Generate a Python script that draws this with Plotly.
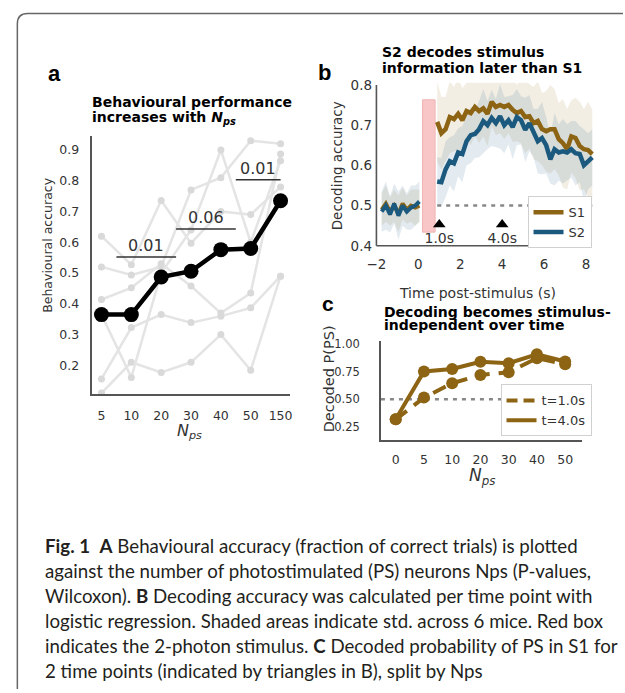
import plotly.graph_objects as go

W, H = 625, 693
FONT = "DejaVu Sans"

# ---------------- Panel a data ----------------
nps_a = ["5", "10", "20", "30", "40", "50", "150"]
mean_a = [0.365, 0.365, 0.487, 0.506, 0.576, 0.58, 0.735]
mouse_a1 = [0.62, 0.527, 0.736, 0.597, 0.70, 0.69, 0.78]
mouse_a2 = [0.52, 0.494, 0.52, 0.77, 0.81, 0.93, 0.92]
mouse_a3 = [0.414, 0.452, 0.53, 0.458, 0.37, 0.435, 0.887]
mouse_a4 = [0.156, 0.323, 0.365, 0.339, 0.36, 0.387, 0.49]
mouse_a5 = [0.11, 0.21, 0.177, 0.21, 0.30, 0.184, 0.49]
mouse_a6 = [0.365, 0.161, 0.50, 0.64, 0.90, 0.60, 0.865]
sig_start = [0.5, 2.5, 4.5]
sig_end = [2.5, 4.5, 6.0]
sig_height = [0.552, 0.643, 0.803]
sig_labels = ["0.01", "0.06", "0.01"]
yticks_a = [0.2, 0.3, 0.4, 0.5, 0.6, 0.7, 0.8, 0.9]

# ---------------- Panel b data ----------------
t_pre = [-1.75, -1.55, -1.35, -1.15, -0.95, -0.75, -0.55, -0.35, -0.15, 0.05]
s1_pre = [0.49, 0.505, 0.485, 0.50, 0.48, 0.505, 0.49, 0.50, 0.495, 0.50]
s2_pre = [0.485, 0.50, 0.478, 0.505, 0.475, 0.50, 0.485, 0.495, 0.50, 0.51]
s1_pre_sd = [0.04, 0.045, 0.035, 0.04, 0.045, 0.04, 0.035, 0.04, 0.045, 0.04]
s2_pre_sd = [0.05, 0.06, 0.045, 0.05, 0.06, 0.05, 0.045, 0.055, 0.05, 0.05]

t_post = [0.9, 1.1, 1.3, 1.5, 1.7, 1.9, 2.1, 2.3, 2.5, 2.7, 2.9, 3.1, 3.3,
          3.5, 3.7, 3.9, 4.1, 4.3, 4.5, 4.7, 4.9, 5.1, 5.3, 5.5, 5.7, 5.9,
          6.1, 6.3, 6.5, 6.7, 6.9, 7.1, 7.3, 7.5, 7.7, 7.9, 8.1, 8.3]
s1_post = [0.708, 0.68, 0.69, 0.72, 0.715, 0.728, 0.712, 0.735, 0.73, 0.745,
           0.735, 0.742, 0.728, 0.758, 0.745, 0.75, 0.745, 0.75, 0.738, 0.73,
           0.735, 0.72, 0.722, 0.705, 0.71, 0.69, 0.685, 0.69, 0.69, 0.665,
           0.655, 0.64, 0.672, 0.668, 0.648, 0.64, 0.638, 0.628]
s2_post = [0.56, 0.558, 0.59, 0.61, 0.605, 0.632, 0.628, 0.66, 0.675, 0.678,
           0.69, 0.71, 0.70, 0.718, 0.705, 0.722, 0.70, 0.712, 0.695, 0.72,
           0.712, 0.688, 0.705, 0.68, 0.66, 0.668, 0.65, 0.615, 0.64, 0.632,
           0.635, 0.632, 0.64, 0.63, 0.628, 0.60, 0.61, 0.62]
s1_post_sd = [0.10, 0.09, 0.08, 0.09, 0.08, 0.09, 0.08, 0.07, 0.08, 0.07,
              0.08, 0.07, 0.08, 0.06, 0.07, 0.07, 0.08, 0.07, 0.08, 0.07,
              0.08, 0.09, 0.08, 0.09, 0.10, 0.09, 0.10, 0.11, 0.10, 0.09,
              0.11, 0.10, 0.09, 0.10, 0.11, 0.10, 0.12, 0.11]
s2_post_sd = [0.06, 0.06, 0.07, 0.06, 0.07, 0.06, 0.07, 0.06, 0.07, 0.06,
              0.07, 0.08, 0.06, 0.07, 0.06, 0.08, 0.07, 0.06, 0.08, 0.07,
              0.06, 0.08, 0.07, 0.06, 0.08, 0.09, 0.07, 0.06, 0.09, 0.07,
              0.08, 0.07, 0.07, 0.08, 0.07, 0.09, 0.07, 0.07]
stim_on, stim_off = 0.2, 0.8
trig_times = [1.0, 4.0]
trig_labels = ["1.0s", "4.0s"]
chance_b = 0.5
xticks_b = [-2, 0, 2, 4, 6, 8]
xticktext_b = ["\u22122", "0", "2", "4", "6", "8"]
yticks_b = [0.4, 0.5, 0.6, 0.7, 0.8]

# ---------------- Panel c data ----------------
nps_c = ["0", "5", "10", "20", "30", "40", "50"]
p_t1 = [0.318, 0.515, 0.645, 0.72, 0.744, 0.872, 0.818]
p_t4 = [0.318, 0.752, 0.774, 0.839, 0.827, 0.908, 0.842]
chance_c = 0.5
yticks_c = [0.25, 0.5, 0.75, 1.0]
yticktext_c = ["0.25", "0.50", "0.75", "1.00"]

BROWN = "#8c6414"
BLUE = "#1b5a7e"


def px_x(p):
    return p / W


def px_y(p):
    return 1 - p / H


fig = go.Figure()
annos = []


def txt(x, y, text, size, xanchor="left", yanchor="middle", family=FONT, color="black", angle=0):
    annos.append(dict(x=px_x(x), y=px_y(y), xref="paper", yref="paper", text=text,
                      showarrow=False, xanchor=xanchor, yanchor=yanchor, textangle=angle,
                      font=dict(family=family, size=size, color=color)))


# ---------- panel a ----------
for m in [mouse_a1, mouse_a2, mouse_a3, mouse_a4, mouse_a5, mouse_a6]:
    fig.add_trace(go.Scatter(
        x=list(range(len(nps_a))), y=m, mode="lines+markers",
        line=dict(color="#e4e4e4", width=2.5),
        marker=dict(color="#d9d9d9", size=7),
        showlegend=False, hoverinfo="skip", xaxis="x", yaxis="y"))
fig.add_trace(go.Scatter(
    x=list(range(len(nps_a))), y=mean_a, mode="lines+markers",
    line=dict(color="black", width=4.5), marker=dict(color="black", size=15),
    showlegend=False, xaxis="x", yaxis="y"))
for s, e, h, lab in zip(sig_start, sig_end, sig_height, sig_labels):
    fig.add_trace(go.Scatter(
        x=[s, e], y=[h, h], mode="lines", line=dict(color="#333", width=1.6),
        showlegend=False, hoverinfo="skip", xaxis="x", yaxis="y"))
    annos.append(dict(x=(s + e) / 2, y=h, xref="x", yref="y", text=lab,
                      showarrow=False, yanchor="bottom",
                      font=dict(family=FONT, size=16, color="#333")))


# ---------- panel b ----------
def band(t, m, sd):
    up = [a + b for a, b in zip(m, sd)]
    lo = [a - b for a, b in zip(m, sd)]
    return t + t[::-1], up + lo[::-1]


for t, m, sd, col in [(t_pre, s1_pre, s1_pre_sd, "rgba(160,120,40,0.13)"),
                      (t_pre, s2_pre, s2_pre_sd, "rgba(40,100,150,0.13)"),
                      (t_post, s1_post, s1_post_sd, "rgba(160,120,40,0.13)"),
                      (t_post, s2_post, s2_post_sd, "rgba(40,100,150,0.13)")]:
    bx, by = band(t, m, sd)
    fig.add_trace(go.Scatter(x=bx, y=by, fill="toself", fillcolor=col,
                             line=dict(width=0), mode="lines",
                             showlegend=False, hoverinfo="skip",
                             xaxis="x2", yaxis="y2"))

fig.add_trace(go.Scatter(x=[t_post[0], t_post[-1]], y=[chance_b, chance_b],
                         mode="lines", line=dict(color="#888", width=2.5, dash="4px,5px"),
                         showlegend=False, hoverinfo="skip", xaxis="x2", yaxis="y2"))

fig.add_trace(go.Scatter(x=t_pre, y=s1_pre, mode="lines", line=dict(color=BROWN, width=4),
                         legendgroup="S1", showlegend=False, xaxis="x2", yaxis="y2"))
fig.add_trace(go.Scatter(x=t_pre, y=s2_pre, mode="lines", line=dict(color=BLUE, width=4),
                         legendgroup="S2", showlegend=False, xaxis="x2", yaxis="y2"))
fig.add_trace(go.Scatter(x=t_post, y=s1_post, mode="lines", line=dict(color=BROWN, width=4.5),
                         name="S1", legendgroup="S1", legend="legend",
                         xaxis="x2", yaxis="y2"))
fig.add_trace(go.Scatter(x=t_post, y=s2_post, mode="lines", line=dict(color=BLUE, width=4.5),
                         name="S2", legendgroup="S2", legend="legend",
                         xaxis="x2", yaxis="y2"))
fig.add_trace(go.Scatter(x=trig_times, y=[0.453] * len(trig_times), mode="markers+text",
                         marker=dict(symbol="triangle-up", color="black", size=11),
                         text=trig_labels, textposition="bottom center",
                         textfont=dict(family=FONT, size=14, color="#333"),
                         showlegend=False, hoverinfo="skip", xaxis="x2", yaxis="y2"))

# ---------- panel c ----------
fig.add_trace(go.Scatter(x=[-0.523, 6.585], y=[chance_c, chance_c], mode="lines",
                         line=dict(color="#888", width=2.5, dash="4px,5px"),
                         showlegend=False, hoverinfo="skip", xaxis="x3", yaxis="y3"))
fig.add_trace(go.Scatter(x=list(range(len(nps_c))), y=p_t1, mode="lines+markers",
                         line=dict(color=BROWN, width=4, dash="14px,9px"),
                         marker=dict(color=BROWN, size=12), showlegend=False,
                         xaxis="x3", yaxis="y3"))
fig.add_trace(go.Scatter(x=list(range(len(nps_c))), y=p_t4, mode="lines+markers",
                         line=dict(color=BROWN, width=4),
                         marker=dict(color=BROWN, size=12), showlegend=False,
                         xaxis="x3", yaxis="y3"))
fig.add_trace(go.Scatter(x=[None], y=[None], mode="lines",
                         line=dict(color=BROWN, width=4, dash="11px,6px"),
                         name="t=1.0s", legend="legend2", xaxis="x3", yaxis="y3"))
fig.add_trace(go.Scatter(x=[None], y=[None], mode="lines",
                         line=dict(color=BROWN, width=4),
                         name="t=4.0s", legend="legend2", xaxis="x3", yaxis="y3"))

tickfont = dict(family=FONT, size=12.5, color="#333")

shapes = [
    dict(type="line", xref="x2", yref="y2", x0=-2, x1=-2, y0=0.4, y1=0.8,
         line=dict(color="#555", width=1.6)),
    dict(type="line", xref="x2", yref="y2", x0=-2, x1=8, y0=0.4, y1=0.4,
         line=dict(color="#555", width=1.6)),
    dict(type="rect", xref="x2", yref="y2", x0=stim_on, x1=stim_off, y0=0.434, y1=0.763,
         fillcolor="#f8c6c6", line=dict(color="#f0b4b4", width=1), layer="below"),
    dict(type="path", xref="paper", yref="paper",
         path=(f"M {px_x(9.5)},0 L {px_x(9.5)},{px_y(18)} "
               f"Q {px_x(9.5)},{px_y(7.5)} {px_x(20)},{px_y(7.5)} L 1,{px_y(7.5)}"),
         line=dict(color="#666", width=1.5)),
]

txt(47, 68, "<b>a</b>", 22, xanchor="center", family="Liberation Sans")
txt(322, 67, "<b>b</b>", 22, xanchor="center", family="Liberation Sans")
txt(325, 302, "<b>c</b>", 21, xanchor="center", family="Liberation Sans")
txt(83, 97, "<b>Behavioural performance</b>", 14)
txt(83, 113.5, "<b>increases with <i>N<sub>ps</sub></i></b>", 14)
txt(378, 47, "<b>S2 decodes stimulus</b>", 14)
txt(378, 62.5, "<b>information later than S1</b>", 14)
txt(380, 310, "<b>Decoding becomes stimulus-</b>", 14)
txt(380, 324, "<b>independent over time</b>", 14)
txt(40, 242, "Behavioural accuracy", 12.5, xanchor="center", color="#333", angle=-90)
txt(184, 432, "<i>N<sub>ps</sub></i>", 16, xanchor="center", color="#333")
txt(334, 162, "Decoding accuracy", 13.5, xanchor="center", color="#333", angle=-90)
txt(477, 291, "Time post-stimulus (s)", 14, xanchor="center", color="#333")
txt(326, 378, "Decoded P(PS)", 14.5, xanchor="center", color="#333", angle=-90)
txt(482, 477, "<i>N<sub>ps</sub></i>", 17, xanchor="center", color="#333")

cap = [
    "<b>Fig. 1</b>  <b>A</b> Behavioural accuracy (fraction of correct trials) is plotted",
    "against the number of photostimulated (PS) neurons Nps (P-values,",
    "Wilcoxon). <b>B</b> Decoding accuracy was calculated per time point with",
    "logistic regression. Shaded areas indicate std. across 6 mice. Red box",
    "indicates the 2-photon stimulus. <b>C</b> Decoded probability of PS in S1 for",
    "2 time points (indicated by triangles in B), split by Nps",
]
for i, line in enumerate(cap):
    txt(36, 548 + i * 25.3, line, 18.7, family="Lato", color="#231f20")

fig.update_layout(
    width=W, height=H, margin=dict(l=0, r=0, t=0, b=0),
    paper_bgcolor="white", plot_bgcolor="rgba(0,0,0,0)",
    font=dict(family=FONT, color="#333"),
    shapes=shapes, annotations=annos,
    xaxis=dict(domain=[px_x(85), px_x(287)], range=[-0.33, 6.33], anchor="y",
               tickvals=list(range(len(nps_a))), ticktext=nps_a, showgrid=False,
               zeroline=False, showline=True, linecolor="#555", linewidth=2,
               ticks="", tickfont=tickfont, ticklabelstandoff=9),
    yaxis=dict(domain=[px_y(394), px_y(132)], range=[0.106, 0.945], anchor="x",
               tickvals=yticks_a, ticktext=[f"{v:.1f}" for v in yticks_a], showgrid=False,
               zeroline=False, showline=True, linecolor="#555", linewidth=2,
               ticks="", tickfont=tickfont, ticklabelstandoff=8),
    xaxis2=dict(domain=[px_x(372), px_x(600)], range=[-2.113, 8.592], anchor="y2",
                tickvals=xticks_b, ticktext=xticktext_b, showgrid=False, zeroline=False,
                showline=False, ticks="", tickfont=dict(family=FONT, size=13.5, color="#333"),
                ticklabelstandoff=5),
    yaxis2=dict(domain=[px_y(247), px_y(78)], range=[0.391, 0.805], anchor="x2",
                tickvals=yticks_b, ticktext=[f"{v:.1f}" for v in yticks_b], showgrid=False,
                zeroline=False, showline=False, ticks="",
                tickfont=dict(family=FONT, size=13.5, color="#333"), ticklabelstandoff=1),
    xaxis3=dict(domain=[px_x(379), px_x(583)], range=[-0.523, 6.585], anchor="y3",
                tickvals=list(range(len(nps_c))), ticktext=nps_c, showgrid=False,
                zeroline=False, showline=True, linecolor="#555", linewidth=1.6,
                ticks="", tickfont=dict(family=FONT, size=12.5, color="#333"), ticklabelstandoff=8),
    yaxis3=dict(domain=[px_y(440), px_y(340)], range=[0.134, 1.027], anchor="x3",
                tickvals=yticks_c, ticktext=yticktext_c, showgrid=False,
                zeroline=False, showline=True, linecolor="#555", linewidth=1.6,
                ticks="", tickfont=dict(family=FONT, size=11.5, color="#333"), ticklabelstandoff=17),
    legend=dict(x=px_x(593), xanchor="right", y=px_y(193), yanchor="top",
                bgcolor="white", bordercolor="#d0d0d0", borderwidth=1,
                font=dict(family=FONT, size=13, color="#333"), itemwidth=30,
                tracegroupgap=0),
    legend2=dict(x=px_x(593), xanchor="right", y=px_y(384), yanchor="top",
                 bgcolor="white", bordercolor="#d0d0d0", borderwidth=1,
                 font=dict(family=FONT, size=13, color="#333"), itemwidth=30,
                 tracegroupgap=0),
    showlegend=True,
)

fig.write_html(
    "out.html",
    config={"displayModeBar": False},
    post_script="document.body.style.margin='0';document.body.style.overflow='hidden';",
)
